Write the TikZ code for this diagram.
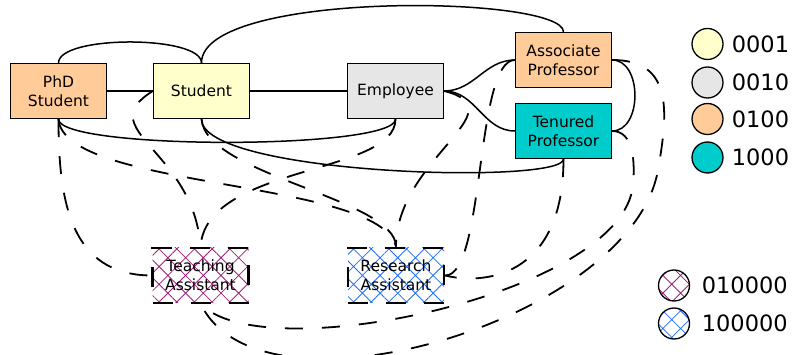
\documentclass[tikz,border=0pt]{standalone}
\usepackage{fontspec}
\setmainfont{DejaVu Sans}
\usetikzlibrary{positioning, patterns.meta}
\definecolor{peach}{RGB}{255,204,153}
\definecolor{paleyellow}{RGB}{255,255,204}
\definecolor{lightgrey}{RGB}{230,230,230}
\definecolor{teal2}{RGB}{0,204,204}
\definecolor{hatchmag}{RGB}{160,30,120}
\definecolor{hatchblue}{RGB}{30,110,255}

\begin{document}
\begin{tikzpicture}[x=1pt,y=1pt,
	box/.style={draw, line width=1.2pt, minimum width=96pt, minimum height=55pt, inner sep=0pt, align=center, font=\fontsize{15.5}{19}\selectfont},
	rolebox/.style={box, line width=2.6pt, dash pattern=on 20pt off 18pt},
	link/.style={line width=1.5pt},
	dlink/.style={line width=1.8pt, dash pattern=on 18pt off 19pt},
	legcirc/.style={circle, draw, line width=1.3pt, minimum size=31pt, inner sep=0pt},
	legtext/.style={inner sep=0pt, font=\fontsize{22.5}{27}\selectfont},
	maghatch/.style={pattern={Hatch[angle=45,distance=12.5pt,line width=0.8pt]}, pattern color=hatchmag},
	bluehatch/.style={pattern={Hatch[angle=45,distance=12.5pt,line width=0.8pt]}, pattern color=hatchblue}]
	\useasboundingbox (0,0) rectangle (793,-355);
	\node[box, fill=peach] (0) at (58.5,-91) {PhD\\Student};
	\node[box, fill=paleyellow] (1) at (201.5,-91) {Student};
	\node[box, fill=lightgrey] (2) at (395.5,-91) {Employee};
	\node[box, fill=peach] (3) at (563.5,-60) {Associate\\Professor};
	\node[box, fill=teal2] (4) at (563.5,-131) {Tenured\\Professor};
	\node[rolebox, maghatch] (5) at (200.5,-275.5) {Teaching\\Assistant};
	\node[rolebox, bluehatch] (6) at (396,-275.5) {Research\\Assistant};
	\coordinate (19) at (658,-170);
	\coordinate (20) at (633,-185);
	\draw [link] (0) -- (1);
	\draw [link] (1) -- (2);
	\draw [link] (0.north) to[out=90,in=90,looseness=0.5] (1.north);
	\draw [link] (1.north) .. controls +(0,73) and +(0,37) .. (3.north);
	\draw [link] (0.south) .. controls +(0,-31) and +(0,-31) .. (2.south);
	\draw [link] (1.south) .. controls +(0,-56) and +(0,-26) .. (4.south);
	\draw [link] (2.east) to[out=0,in=180] (3.west);
	\draw [link] (2.east) to[out=0,in=180] (4.west);
	\draw [link] (3.east) to[out=0,in=0,looseness=1.1] (4.east);
	\draw [dlink] (0.south) to[out=-90,in=180,looseness=1.15] (5.west);
	\draw [dlink] (0.south) .. controls +(5,-71) and +(-16,68) .. (6.north);
	\draw [dlink] (1.south) .. controls +(4,-56) and +(0,48) .. (6.north);
	\draw [dlink] (1.west) .. controls +(-63,-39) and +(-6,98) .. (5.north);
	\draw [dlink] (2.south) .. controls +(0,-56) and +(4,83) .. (5.north);
	\draw [dlink] (2.east) .. controls +(76,-19) and +(0,88) .. (6.north);
	\draw [dlink] (3.west) .. controls +(-40,0) and +(40,0) .. (6.east);
	\draw [dlink] (4.south) .. controls +(0,-121) and +(35,-9) .. (6.east);
	\draw [dlink] (3.east) to[out=0,in=80,looseness=1.3] (19) .. controls (632,-320) and (260,-430) .. (5.south);
	\draw [dlink] (4.east) .. controls +(22,0) and +(2,22) .. (20) .. controls (623,-295) and (260,-370) .. (5.south);
	\node[legcirc, fill=paleyellow] (7) at (707.5,-44) {};
	\node[legcirc, fill=lightgrey] (8) at (707.5,-82.5) {};
	\node[legcirc, fill=peach] (9) at (707.5,-119) {};
	\node[legcirc, fill=teal2] (10) at (707.5,-157.5) {};
	\node[legcirc, maghatch] (11) at (674,-285.5) {};
	\node[legcirc, bluehatch] (12) at (674,-323.5) {};
	\node[legtext, right=8pt of 7] (13) {0001};
	\node[legtext, right=8pt of 8] (14) {0010};
	\node[legtext, right=8pt of 9] (15) {0100};
	\node[legtext, right=8pt of 10] (16) {1000};
	\node[legtext, right=11.5pt of 11] (17) {010000};
	\node[legtext, right=11.5pt of 12] (18) {100000};
\end{tikzpicture}
\end{document}
